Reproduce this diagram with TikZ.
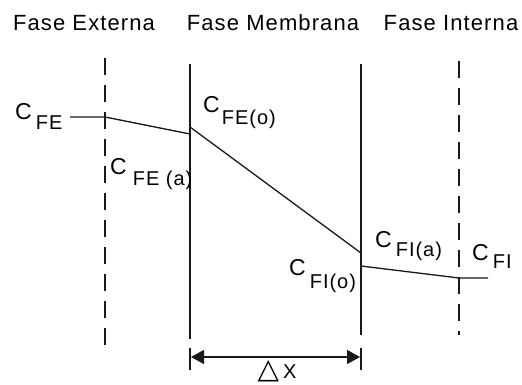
\documentclass[tikz,border=0pt]{standalone}
\usepackage{fontspec}
\setmainfont{Liberation Sans}
\newfontfamily\lblfont[LetterSpace=5]{Liberation Sans}
\newfontfamily\symfont{DejaVu Sans}
\usetikzlibrary{arrows.meta}
\newcommand{\conclab}[3]{{\fontsize{23}{23}\selectfont C}\hspace{#1pt}\raisebox{-#2pt}{#3}}
\tikzset{
  ttl/.style={font=\lblfont\fontsize{22}{22}\selectfont, inner sep=0pt, anchor=base},
  clab/.style={font=\lblfont\fontsize{20}{20}\selectfont, inner sep=0pt, anchor=base west},
  memline/.style={line width=1.6pt, black!90},
  bndline/.style={line width=1.4pt, black!90, dash pattern=on 17pt off 10pt},
  prof/.style={line width=1.3pt, black!90},
}
\begin{document}
\begin{tikzpicture}[x=1pt,y=-1pt]
\useasboundingbox (0,0) rectangle (522,385);
% titles
\node[ttl] (t1) at (84,31) {Fase Externa};
\node[ttl] (t2) at (273,31) {Fase Membrana};
\node[ttl] (t3) at (451,31) {Fase Interna};
% vertical lines
\coordinate (dl1) at (105,58);  \coordinate (dl2) at (105,345);
\coordinate (ml1) at (190,64);  \coordinate (ml2) at (190,339);
\coordinate (mr1) at (361,64);  \coordinate (mr2) at (361,335);
\coordinate (dr1) at (459,57);  \coordinate (dr2) at (459,335);
\draw[bndline] (dl1) -- (dl2);
\draw[memline] (ml1) -- (ml2);
\draw[memline] (mr1) -- (mr2);
\draw[bndline, dash phase=-4pt] (dr1) -- (dr2);
% concentration profile
\coordinate (p0) at (70,117);
\coordinate (p1) at (105,117);
\coordinate (p2) at (190,134);
\coordinate (p3) at (190,127);
\coordinate (p4) at (361,253);
\coordinate (p5) at (361,266);
\coordinate (p6) at (459,278);
\coordinate (p7) at (488,278);
\draw[prof] (p0) -- (p1) -- (p2);
\draw[prof] (p3) -- (p4);
\draw[prof] (p5) -- (p6) -- (p7);
% labels
\node[clab] (cfe) at (15,120) {\conclab{4}{10}{FE}};
\node[clab] (cfeo) at (203,113) {\conclab{2}{12}{FE(o)}};
\node[clab] (cfea) at (110,175) {\conclab{6}{11}{FE (a)}};
\node[clab] (cfia) at (375,247) {\conclab{4}{9}{FI(a)}};
\node[clab] (cfi) at (472,260) {\conclab{4}{8}{FI}};
\node[clab] (cfio) at (289,275) {\conclab{4}{13}{FI(o)}};
% delta x dimension
\coordinate (b1a) at (190,348); \coordinate (b1b) at (190,370);
\coordinate (b2a) at (361,348); \coordinate (b2b) at (361,370);
\coordinate (a1) at (191,357); \coordinate (a2) at (360,357);
\draw[memline] (b1a) -- (b1b);
\draw[memline] (b2a) -- (b2b);
\draw[prof, {Triangle[length=13pt,width=14pt]}-{Triangle[length=13pt,width=14pt]}] (a1) -- (a2);
\node[inner sep=0pt, anchor=base] (dx) at (277,378) {{\symfont\fontsize{28}{28}\selectfont △}\hspace{4pt}{\lblfont\fontsize{20}{20}\selectfont X}};
\end{tikzpicture}
\end{document}
